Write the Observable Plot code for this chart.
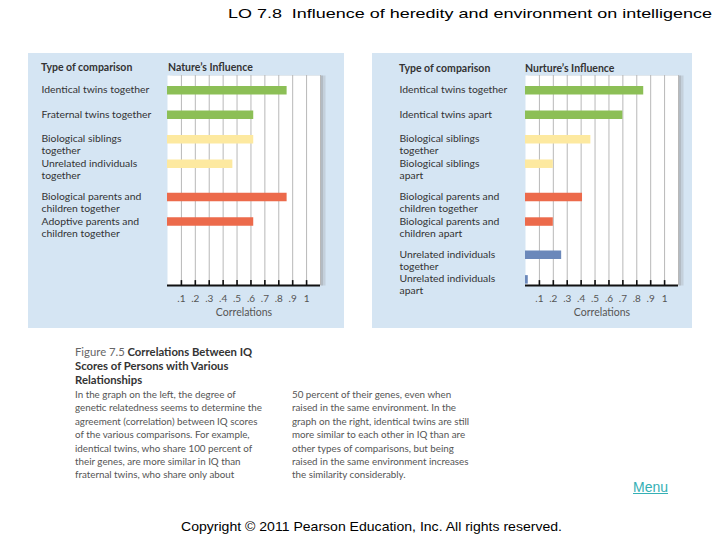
<!DOCTYPE html>
<html>
<head>
<meta charset="utf-8">
<script src="https://cdn.jsdelivr.net/npm/d3@7"></script>
<script src="https://cdn.jsdelivr.net/npm/@observablehq/plot@0.6"></script>
<style>
  html, body { margin: 0; padding: 0; background: #fff; }
  body { width: 720px; height: 540px; position: relative; overflow: hidden; font-family: "Liberation Sans", Arial, sans-serif; }
  .abs { position: absolute; white-space: nowrap; }
  .panel { position: absolute; background: #d5e5f3; }
  .hdr { position: absolute; font-family: Lato, sans-serif; font-weight: bold; font-size: 10.5px; color: #333; white-space: nowrap; line-height: 1; }
  .cap { position: absolute; font-family: Lato, sans-serif; font-size: 9.8px; color: #555; line-height: 13.4px; white-space: nowrap; }
  .capt { position: absolute; font-family: Lato, sans-serif; font-size: 11.3px; color: #333; line-height: 14px; white-space: nowrap; font-weight: bold; }
  .stretch { transform-origin: left center; display: inline-block; }
</style>
</head>
<body>
<div id="title" class="abs stretch" style="left:228px; top:6px; font-size:13px; color:#000;">LO 7.8&nbsp; Influence of heredity and environment on intelligence</div>

<div id="left" class="panel" style="left:28px; top:53px; width:316px; height:275px;"></div>
<div id="right" class="panel" style="left:372px; top:53px; width:320px; height:275px;"></div>

<div class="hdr" style="left:41px; top:62px;">Type of comparison</div>
<div class="hdr" style="left:168px; top:62px;">Nature’s Influence</div>
<div class="hdr" style="left:399px; top:63px;">Type of comparison</div>
<div class="hdr" style="left:525px; top:63px;">Nurture’s Influence</div>

<div class="capt" style="left:75px; top:345px;"><span style="font-weight:normal;color:#666;">Figure 7.5</span> Correlations Between IQ<br>Scores of Persons with Various<br>Relationships</div>
<div class="cap" style="left:75px; top:388px;">In the graph on the left, the degree of<br>genetic relatedness seems to determine the<br>agreement (correlation) between IQ scores<br>of the various comparisons. For example,<br>identical twins, who share 100 percent of<br>their genes, are more similar in IQ than<br>fraternal twins, who share only about</div>
<div class="cap" style="left:292px; top:388px;">50 percent of their genes, even when<br>raised in the same environment. In the<br>graph on the right, identical twins are still<br>more similar to each other in IQ than are<br>other types of comparisons, but being<br>raised in the same environment increases<br>the similarity considerably.</div>

<div class="abs" style="left:633px; top:479px; font-size:14px; color:#35b0b5; text-decoration:underline;">Menu</div>
<div id="copy" class="abs stretch" style="left:181px; top:519px; font-size:13px; color:#000;">Copyright © 2011 Pearson Education, Inc. All rights reserved.</div>

<script>
// ---- data ----
const groupNames = ["twins", "siblings", "parents", "unrelated"];
const groupColors = ["#8cbf56", "#fde9a0", "#ec6a4b", "#6b88ba"];

const natureLabels = [
  "Identical twins together",
  "Fraternal twins together",
  "Biological siblings\ntogether",
  "Unrelated individuals\ntogether",
  "Biological parents and\nchildren together",
  "Adoptive parents and\nchildren together"
];
const natureValues = [0.86, 0.62, 0.62, 0.47, 0.86, 0.62];
const natureGroups = ["twins", "twins", "siblings", "siblings", "parents", "parents"];

const nurtureLabels = [
  "Identical twins together",
  "Identical twins apart",
  "Biological siblings\ntogether",
  "Biological siblings\napart",
  "Biological parents and\nchildren together",
  "Biological parents and\nchildren apart",
  "Unrelated individuals\ntogether",
  "Unrelated individuals\napart"
];
const nurtureValues = [0.85, 0.70, 0.47, 0.20, 0.41, 0.20, 0.26, 0.02];
const nurtureGroups = ["twins", "twins", "siblings", "siblings", "parents", "parents", "unrelated", "unrelated"];

const tickValues = [0.1, 0.2, 0.3, 0.4, 0.5, 0.6, 0.7, 0.8, 0.9, 1];
const tickLabels = [".1", ".2", ".3", ".4", ".5", ".6", ".7", ".8", ".9", "1"];

// ---- build ----
function rows(labels, values, groups) {
  return labels.map((label, i) => {
    const g = groupNames.indexOf(groups[i]);
    return { label, value: values[i], group: groups[i], pos: i + 0.36 * Math.max(0, g - 1) };
  });
}

const yTop = -0.6, yBottom = 7.97;

function panel(data, width, marginLeft, marginRight) {
  const gridVals = tickValues.concat([1.1]);
  return Plot.plot({
    width, height: 275,
    marginLeft, marginRight, marginTop: 22, marginBottom: 43,
    style: { background: "transparent", overflow: "visible" },
    x: { domain: [0, 1.1], axis: null },
    y: { domain: [yTop, yBottom], reverse: true, axis: null },
    color: { domain: groupNames, range: groupColors },
    marks: [
      Plot.frame({ fill: "#8a8a8a", fillOpacity: 0.22, stroke: null, dx: 5 }),
      Plot.frame({ fill: "#8a8a8a", fillOpacity: 0.3, stroke: null, dx: 2.5 }),
      Plot.frame({ fill: "white", stroke: null }),
      Plot.ruleX(gridVals, { stroke: "#b8b8b8", strokeWidth: 1 }),
      Plot.ruleY(data, { y: "pos", x1: 0, x2: "value", stroke: "group", strokeWidth: 8.5 }),
      Plot.ruleX(tickValues, { x: d => d, y1: yBottom, y2: yBottom - 0.2, stroke: "#111", strokeWidth: 1.6 }),
      Plot.ruleY([yBottom], { x1: 0, x2: 1.1, stroke: "#111", strokeWidth: 2 }),
      Plot.axisX(tickValues, { tickSize: 0, tickPadding: 9, tickFormat: (d, i) => tickLabels[i], fontSize: 10, fill: "#555", fontFamily: "Lato, sans-serif", label: null }),
      Plot.text(["Correlations"], { frameAnchor: "bottom", dy: 30, fontSize: 10.5, fill: "#555", fontFamily: "Lato, sans-serif" }),
      Plot.text(data, { y: "pos", text: "label", frameAnchor: "left", dx: -126, textAnchor: "start", lineAnchor: "top", dy: -5.5, fontSize: 10.4, lineHeight: 1.16, fill: "#333", fontFamily: "Lato, sans-serif" })
    ]
  });
}

document.getElementById("left").appendChild(panel(rows(natureLabels, natureValues, natureGroups), 316, 139, 24));
document.getElementById("right").appendChild(panel(rows(nurtureLabels, nurtureValues, nurtureGroups), 320, 153, 14));

function fit(id, target) {
  const el = document.getElementById(id);
  const w = el.getBoundingClientRect().width;
  el.style.transform = `scaleX(${target / w})`;
}
fit("title", 484);
fit("copy", 381);
</script>
</body>
</html>
